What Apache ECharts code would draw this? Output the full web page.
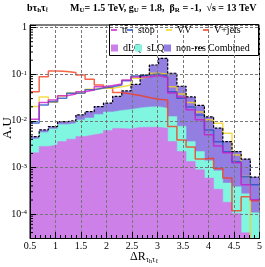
<!DOCTYPE html>
<html><head><meta charset="utf-8">
<script src="https://cdn.jsdelivr.net/npm/echarts@6/dist/echarts.min.js"></script>
<style>html,body{margin:0;padding:0;background:#fff}#c{width:265px;height:267px}</style>
</head><body><div id="c"></div>
<script>
// bin edges of the histograms (ΔR)
const binEdges = [0.5,0.68,0.86,1.04,1.22,1.4,1.58,1.76,1.94,2.12,2.3,2.48,2.66,2.84,3.02,3.2,3.38,3.56,3.74,3.92,4.1,4.28,4.46,4.64,4.82,5.0];
// background line histograms (A.U.)
const ttbar = [0.0108,0.0248,0.0281,0.0347,0.0378,0.0423,0.046,0.0542,0.0575,0.0619,0.0754,0.0874,0.0874,0.0941,0.0853,0.0397,0.0326,0.0172,0.0105,0.0050,0.0029,0.00206,0.00126,0.000424,0.000202];
const stop = [0.0090,0.0220,0.0258,0.0306,0.0391,0.0397,0.0467,0.0508,0.0542,0.0589,0.0728,0.0918,0.0965,0.1013,0.0918,0.0423,0.0306,0.0199,0.0134,0.0064,0.00354,0.00216,0.00132,0.00063,0.000424];
const vv = [0.0202,0.0326,0.0252,0.0342,0.0397,0.0397,0.0476,0.050,0.050,0.0542,0.0589,0.082,0.0887,0.105,0.1013,0.0542,0.0378,0.0248,0.0155,0.0105,0.0089,0.00543,0.00186,0.000639,0.0000001];
const vjets = [0.0423,0.0887,0.1175,0.1147,0.109,0.0965,0.078,0.0589,0.052,0.0407,0.0378,0.0351,0.0318,0.0291,0.0281,0.00753,0.0039,0.00276,0.00151,0.00158,0.000948,0.00059,0.000117,0.000234,0.000193];
// signal components, drawn as cumulative levels (dLQ, dLQ+sLQ, dLQ+sLQ+non-res = Combined)
const dLQ = [0.00206,0.00283,0.00305,0.00359,0.00404,0.0046,0.0050,0.00543,0.00624,0.00689,0.00672,0.00723,0.0073,0.0073,0.00696,0.00359,0.00219,0.00134,0.000889,0.00059,0.00034,0.000179,0.000103,0.0000397,0.0000001];
const dLQplusSLQ = [0.0041,0.00565,0.00672,0.00839,0.00881,0.01047,0.01156,0.01374,0.01554,0.01674,0.01758,0.01894,0.0199,0.0201,0.01866,0.01233,0.00768,0.00359,0.00219,0.00139,0.000846,0.000461,0.000384,0.000272,0.000107];
const combined = [0.0046,0.0064,0.00753,0.00963,0.0101,0.0134,0.0158,0.0202,0.0239,0.0334,0.0438,0.0604,0.0965,0.158,0.22,0.105,0.0552,0.0326,0.0214,0.01215,0.00696,0.00359,0.00219,0.00151,0.00062];
// axis ticks
const yMinorTicks = [4e-5,5e-5,6e-5,7e-5,8e-5,9e-5,2e-4,3e-4,4e-4,5e-4,6e-4,7e-4,8e-4,9e-4,2e-3,3e-3,4e-3,5e-3,6e-3,7e-3,8e-3,9e-3,2e-2,3e-2,4e-2,5e-2,6e-2,7e-2,8e-2,9e-2,2e-1,3e-1,4e-1,5e-1,6e-1,7e-1,8e-1,9e-1];
const xMin = 0.5, xMax = 5, xInterval = 0.5;
const yMin = 3.06e-5, yMax = 1.14;

function steps(vals){
  const d = vals.map((v,i)=>[binEdges[i], v]);
  d.push([binEdges[binEdges.length-1], vals[vals.length-1]]);
  return d;
}
const FONT = 'Liberation Serif';
const C = {
  dLQ:'#cc80e8', sLQ:'#80f5e0', nonres:'#937fe2',
  tt:'#c81cc8', stop:'#2352c8', vv:'#f2d21e', vj:'#f43c1c'
};
function fillSeries(name, data, color, z){
  return {name, type:'line', step:'end', data:steps(data), symbol:'none', z,
    lineStyle:{width:0.5, color}, itemStyle:{color},
    areaStyle:{color, opacity:1, origin:'start'}, animation:false};
}
function lineSeries(name, data, color, z){
  return {name, type:'line', step:'end', data:steps(data), symbol:'none', z,
    lineStyle:{width:1.5, color, opacity:0.8}, itemStyle:{color}, animation:false};
}
const chart = echarts.init(document.getElementById('c'), null, {renderer:'canvas'});
const legTxt = {fontFamily:FONT, fontSize:10, color:'#000', lineHeight:10};
const LINE_ICON = 'path://M0,0H6V1.5H0Z';
const DASH_ICON = 'path://M0,0H2V1.5H0Z M3,0H5V1.5H3Z M6,0H8V1.5H6Z';
function leg(name, left, top, icon, w, h){
  return {data:[{name, icon}], left, top, padding:0, itemWidth:w, itemHeight:h,
    itemGap:0, textStyle:legTxt, selectedMode:false, z:5};
}
chart.setOption({
  animation:false,
  grid:{left:30, right:4, top:25, bottom:29, show:true, borderColor:'#000', borderWidth:1, backgroundColor:'transparent'},
  xAxis:{type:'value', min:xMin, max:xMax, interval:xInterval, z:5,
    axisLine:{lineStyle:{color:'#000', width:1}},
    axisTick:{inside:true, length:6, lineStyle:{color:'#000'}},
    minorTick:{show:true, splitNumber:5, length:3, lineStyle:{color:'#000'}},
    splitLine:{show:true, lineStyle:{color:'#777', type:[3,2], width:1}},
    axisLabel:{fontFamily:FONT, fontSize:10, color:'#000', margin:3, showMinLabel:true, showMaxLabel:true}},
  yAxis:{type:'log', logBase:10, min:yMin, max:yMax, z:5,
    axisLine:{lineStyle:{color:'#000', width:1}},
    axisTick:{inside:true, length:6, lineStyle:{color:'#000'}},
    splitLine:{show:true, lineStyle:{color:'#777', type:[3,2], width:1}},
    axisLabel:{fontFamily:FONT, fontSize:10, color:'#000', margin:3,
      formatter:function(v){
        const e = Math.log10(v);
        if (Math.abs(e - Math.round(e)) > 1e-6) return '';
        if (Math.round(e) === 0) return '1';
        return '10{sup|' + Math.round(e) + '}';
      },
      rich:{sup:{fontFamily:FONT, fontSize:7, verticalAlign:'top', lineHeight:8, padding:[0,0,6,0]}}}},
  legend:[
    leg('tt̄', 111, 25, LINE_ICON, 6, 1.5),
    leg('stop', 127, 25, LINE_ICON, 6, 1.5),
    leg('VV', 166, 25, LINE_ICON, 6, 1.5),
    leg('V+jets', 203, 25, LINE_ICON, 6, 1.5),
    leg('dLQ', 111, 43, 'rect', 7, 7),
    leg('sLQ', 135, 43, 'rect', 7, 7),
    leg('non-res', 164, 43, 'rect', 7, 7),
    leg('Combined', 195, 43, DASH_ICON, 8, 1.5)
  ],
  graphic:[
    {type:'rect', left:109, top:24, shape:{width:149, height:31}, style:{fill:'#fff', stroke:'#000', lineWidth:1}, z:3},
    {type:'text', left:27, top:3, z:10, style:{text:'{n|bτ}{s|h}{n|τ}{s|ℓ}', fill:'#000',
      rich:{n:{fontFamily:FONT, fontWeight:'bold', fontSize:10, lineHeight:12, fill:'#000'}, s:{fontFamily:FONT, fontWeight:'bold', fontSize:7, lineHeight:7, verticalAlign:'bottom', fill:'#000'}}}},
    {type:'text', left:70, top:3, z:10, style:{text:'{n|M}{s|U}{n|= 1.5 TeV, g}{s|U}{n| = 1.8,  β}{s|R}{n| = -1,  √s = 13 TeV}', fill:'#000',
      rich:{n:{fontFamily:FONT, fontWeight:'bold', fontSize:10, lineHeight:12, fill:'#000'}, s:{fontFamily:FONT, fontWeight:'bold', fontSize:7, lineHeight:7, verticalAlign:'bottom', fill:'#000'}}}},
    {type:'text', x:144, y:257, z:10, style:{text:'{n|ΔR}{s|τ}{ss|h}{s|τ}{ss|ℓ}', fill:'#000', align:'center', verticalAlign:'middle',
      rich:{n:{fontFamily:FONT, fontSize:12, lineHeight:14, fill:'#000'}, s:{fontFamily:FONT, fontSize:8, lineHeight:9, verticalAlign:'bottom', fill:'#000'}, ss:{fontFamily:FONT, fontSize:6, lineHeight:5, verticalAlign:'bottom', fill:'#000'}}}},
    {type:'text', x:8, y:128, rotation:Math.PI/2, z:10, style:{text:'A.U', fontFamily:FONT, fontSize:13, fill:'#000', align:'center', verticalAlign:'middle'}}
  ],
  series:[
    fillSeries('non-res', combined, C.nonres, 2),
    fillSeries('sLQ', dLQplusSLQ, C.sLQ, 2),
    fillSeries('dLQ', dLQ, C.dLQ, 2),
    lineSeries('V+jets', vjets, C.vj, 3),
    lineSeries('VV', vv, C.vv, 3),
    lineSeries('stop', stop, C.stop, 3),
    lineSeries('tt̄', ttbar, C.tt, 3),
    {name:'Combined', type:'line', step:'end', data:steps(combined), symbol:'none', z:4,
      lineStyle:{width:1.2, color:'#000', type:[2.5,1.5]}, itemStyle:{color:'#000'}, animation:false},
    {type:'custom', silent:true, z:6, data:yMinorTicks.map(v=>[xMin, v]),
      renderItem:function(params, api){
        const p = api.coord([api.value(0), api.value(1)]);
        return {type:'line', shape:{x1:p[0], y1:p[1], x2:p[0]+3, y2:p[1]}, style:{stroke:'#000', lineWidth:1}};
      }, animation:false}
  ]
});
</script></body></html>
